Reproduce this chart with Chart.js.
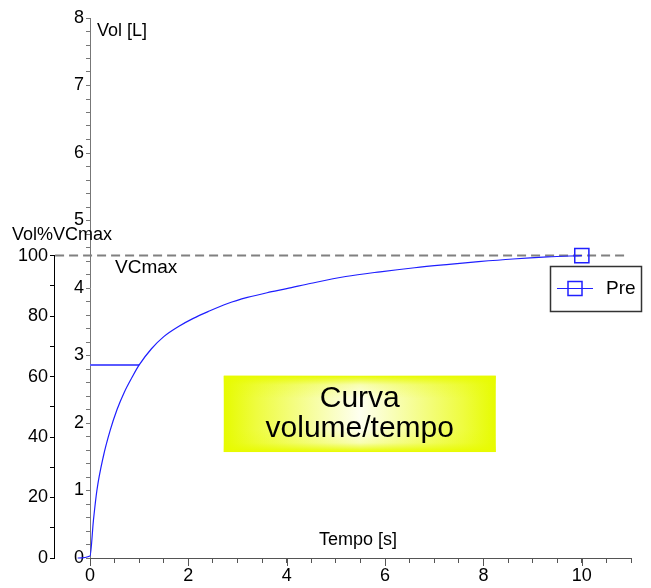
<!DOCTYPE html>
<html>
<head>
<meta charset="utf-8">
<script src="https://cdn.jsdelivr.net/npm/chart.js@4"></script>
<style>
  body { margin: 0; background: #fff; }
  canvas { display: block; }
</style>
</head>
<body>
<canvas id="volChart" width="651" height="588"></canvas>
<script>
// Volume/time curve
const timeS = [-0.25, 0, 0.07, 0.14, 0.27, 0.41, 0.55, 0.70, 0.85, 1.0, 1.25, 1.5, 1.8, 2.1, 2.4, 2.8, 3.2, 3.6, 4.0, 4.5, 5.2, 5.9, 6.6, 7.3, 7.9, 8.6, 9.3, 10.0];
const volL  = [0, 0.03, 0.56, 1.0, 1.5, 1.89, 2.20, 2.46, 2.67, 2.86, 3.10, 3.28, 3.43, 3.55, 3.65, 3.77, 3.86, 3.93, 3.99, 4.07, 4.17, 4.24, 4.30, 4.35, 4.39, 4.43, 4.46, 4.48];

const vcMax = 4.48;          // litres = 100 %
const vcMaxSpan = [-0.71, 10.91];
const fev1 = 2.86;
const fev1Time = 1.0;

const timeMax = 11;
const volMax = 8;
const pctLabels = [0, 20, 40, 60, 80, 100];
const xLabels = [0, 2, 4, 6, 8, 10];

const FONT = '"Liberation Sans", Arial, sans-serif';

// build point objects
const curve = timeS.map((t, i) => ({ x: t, y: volL[i] }));

const overlay = {
    id: 'overlay',
    afterDraw(chart) {
        const ctx = chart.ctx;
        const x = chart.scales.x;
        const y = chart.scales.y;
        const yp = chart.scales.yp;

        ctx.save();

        // outer percent axis line, only 0..100
        ctx.strokeStyle = '#000';
        ctx.lineWidth = 1;
        ctx.beginPath();
        ctx.moveTo(yp.right - 0.5, yp.getPixelForValue(100));
        ctx.lineTo(yp.right - 0.5, yp.getPixelForValue(0));
        ctx.stroke();

        // longer ticks on the labelled times
        ctx.strokeStyle = '#555';
        ctx.beginPath();
        xLabels.forEach(v => {
            const px = Math.round(x.getPixelForValue(v)) + 0.5;
            ctx.moveTo(px, x.top);
            ctx.lineTo(px, x.top + 8);
        });
        ctx.stroke();

        // axis texts
        ctx.fillStyle = '#000';
        ctx.font = '18px ' + FONT;
        ctx.textBaseline = 'middle';
        ctx.textAlign = 'left';
        ctx.fillText('Vol [L]', 97, 31);
        ctx.fillText('Vol%VCmax', 12, 235);
        ctx.font = '19px ' + FONT;
        ctx.fillText('VCmax', 115, 268);
        ctx.font = '18px ' + FONT;
        ctx.textAlign = 'center';
        ctx.fillText('Tempo [s]', 358, 540);

        // yellow title box
        const bx0 = x.getPixelForValue(2.72), bx1 = x.getPixelForValue(8.25);
        const by0 = y.getPixelForValue(2.70), by1 = y.getPixelForValue(1.57);
        const bw = bx1 - bx0, bh = by1 - by0;
        let g = ctx.createLinearGradient(bx0, 0, bx1, 0);
        g.addColorStop(0, '#e6fb00');
        g.addColorStop(0.12, '#eefc40');
        g.addColorStop(0.5, '#fefff0');
        g.addColorStop(0.88, '#eefc40');
        g.addColorStop(1, '#e6fb00');
        ctx.fillStyle = g;
        ctx.fillRect(bx0, by0, bw, bh);
        g = ctx.createLinearGradient(0, by0, 0, by1);
        g.addColorStop(0, 'rgba(232,251,0,1)');
        g.addColorStop(0.12, 'rgba(232,251,0,0.25)');
        g.addColorStop(0.3, 'rgba(232,251,0,0)');
        g.addColorStop(0.7, 'rgba(232,251,0,0)');
        g.addColorStop(0.88, 'rgba(232,251,0,0.25)');
        g.addColorStop(1, 'rgba(232,251,0,1)');
        ctx.fillStyle = g;
        ctx.fillRect(bx0, by0, bw, bh);

        ctx.fillStyle = '#000';
        ctx.font = '30px ' + FONT;
        ctx.textAlign = 'center';
        ctx.textBaseline = 'alphabetic';
        const cx = (bx0 + bx1) / 2;
        ctx.fillText('Curva', cx, 407);
        ctx.fillText('volume/tempo', cx, 437);

        // legend
        ctx.strokeStyle = '#333';
        ctx.lineWidth = 1.5;
        ctx.strokeRect(550.5, 266.5, 91, 45);
        ctx.strokeStyle = '#2020ff';
        ctx.lineWidth = 1.2;
        ctx.beginPath();
        ctx.moveTo(557, 288.5);
        ctx.lineTo(593, 288.5);
        ctx.stroke();
        ctx.lineWidth = 1.5;
        ctx.strokeRect(568, 281.5, 14, 14);
        ctx.fillStyle = '#000';
        ctx.font = '19px ' + FONT;
        ctx.textAlign = 'left';
        ctx.textBaseline = 'middle';
        ctx.fillText('Pre', 606, 289);

        ctx.restore();
    }
};

const ctx = document.getElementById('volChart').getContext('2d');
const volChart = new Chart(ctx, {
    type: 'line',
    data: {
        datasets: [{
            label: 'Pre',
            data: curve,
            borderColor: '#1e1eff',
            borderWidth: 1.2,
            cubicInterpolationMode: 'monotone',
            pointRadius: curve.map((p, i) => i === curve.length - 1 ? 10 : 0),
            pointStyle: 'rect',
            pointBorderColor: '#2020ff',
            pointBorderWidth: 1.5,
            pointBackgroundColor: 'rgba(0,0,0,0)',
            clip: false,
            order: 1
        }, {
            label: 'VCmax',
            data: vcMaxSpan.map(t => ({ x: t, y: vcMax })),
            borderColor: '#808080',
            borderWidth: 2,
            borderDash: [9, 5],
            pointRadius: 0,
            clip: false,
            order: 2
        }, {
            label: 'FEV1',
            data: [{ x: 0, y: fev1 }, { x: fev1Time, y: fev1 }],
            borderColor: '#5a5aff',
            borderWidth: 2,
            pointRadius: 0,
            clip: false,
            order: 3
        }]
    },
    options: {
        responsive: false,
        animation: false,
        layout: { padding: { top: 18, right: 20, left: 0, bottom: 0 } },
        plugins: {
            legend: { display: false },
            tooltip: { enabled: false }
        },
        scales: {
            x: {
                type: 'linear',
                position: 'bottom',
                min: 0,
                max: timeMax,
                afterFit: s => { s.height = 30; },
                ticks: {
                    stepSize: 0.5,
                    autoSkip: false,
                    maxRotation: 0,
                    padding: 2,
                    color: '#000',
                    font: { family: FONT, size: 18 },
                    callback: v => xLabels.includes(v) ? v : ''
                },
                grid: { drawOnChartArea: false, tickLength: 5, color: '#555' },
                border: { color: '#555' }
            },
            y: {
                type: 'linear',
                position: 'left',
                weight: 0,
                min: 0,
                max: volMax,
                afterFit: s => { s.width = 35; },
                ticks: {
                    stepSize: 0.2,
                    autoSkip: false,
                    padding: 2,
                    color: '#000',
                    font: { family: FONT, size: 18 },
                    callback: v => Math.abs(v - Math.round(v)) < 1e-6 ? Math.round(v) : ''
                },
                grid: { drawOnChartArea: false, tickLength: 4, color: '#777' },
                border: { color: '#777' }
            },
            yp: {
                type: 'linear',
                position: 'left',
                weight: 1,
                min: 0,
                max: volMax * 100 / vcMax,
                afterFit: s => { s.width = 55; },
                afterBuildTicks: s => {
                    const t = [];
                    for (let v = 0; v <= 100; v += 10) t.push({ value: v });
                    s.ticks = t;
                },
                ticks: {
                    autoSkip: false,
                    padding: 2,
                    color: '#000',
                    font: { family: FONT, size: 18 },
                    callback: v => pctLabels.includes(v) ? v : ''
                },
                grid: { drawOnChartArea: false, tickLength: 5, color: '#000' },
                border: { display: false }
            }
        }
    },
    plugins: [overlay]
});
</script>
</body>
</html>
